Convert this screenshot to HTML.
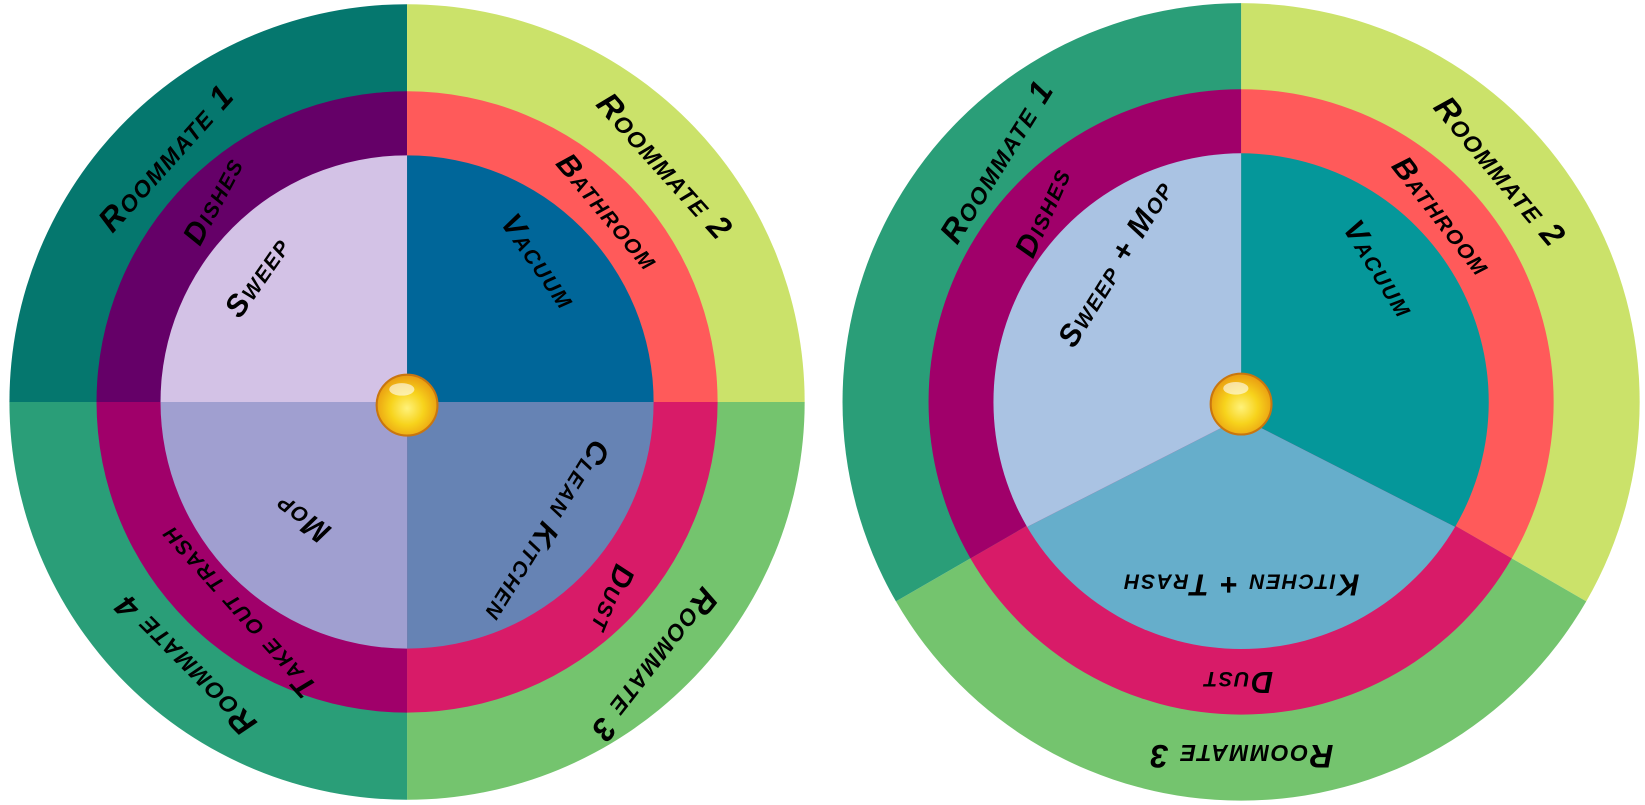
<!DOCTYPE html>
<html><head><meta charset="utf-8"><style>
html,body{margin:0;padding:0;background:#fff;}
svg{display:block;}
text{font-family:"Liberation Sans",sans-serif;font-weight:bold;font-style:italic;font-variant:small-caps;fill:#000;text-anchor:middle;dominant-baseline:middle;letter-spacing:1.5px;}
</style></head><body>
<svg width="1645" height="805" viewBox="0 0 1568 767" preserveAspectRatio="none" xmlns="http://www.w3.org/2000/svg">
<defs>
<radialGradient id="gold" cx="50%" cy="55%" r="55%">
<stop offset="0" stop-color="#fff27a"/><stop offset="0.5" stop-color="#f7d31c"/><stop offset="1" stop-color="#e99a10"/>
</radialGradient>
</defs>
<g>
<path d="M388 383 L9 383 A379 379 0 0 1 388 4 Z" fill="#05776E"/>
<path d="M388 383 L388 4 A379 379 0 0 1 767 383 Z" fill="#CBE26A"/>
<path d="M388 383 L767 383 A379 379 0 0 1 388 762 Z" fill="#74C46E"/>
<path d="M388 383 L388 762 A379 379 0 0 1 9 383 Z" fill="#2A9E78"/>
<path d="M388 383 L92 383 A296 296 0 0 1 388 87 Z" fill="#650068"/>
<path d="M388 383 L388 87 A296 296 0 0 1 684 383 Z" fill="#FF5A5A"/>
<path d="M388 383 L684 383 A296 296 0 0 1 388 679 Z" fill="#D81B68"/>
<path d="M388 383 L388 679 A296 296 0 0 1 92 383 Z" fill="#A0006A"/>
<path d="M388 383 L153 383 A235 235 0 0 1 388 148 Z" fill="#D3C2E6"/>
<path d="M388 383 L388 148 A235 235 0 0 1 623 383 Z" fill="#006699"/>
<path d="M388 383 L623 383 A235 235 0 0 1 388 618 Z" fill="#6683B4"/>
<path d="M388 383 L388 618 A235 235 0 0 1 153 383 Z" fill="#A09FD0"/>
<circle cx="388" cy="386" r="29" fill="url(#gold)" stroke="#c9760f" stroke-width="2"/>
<ellipse cx="383" cy="371" rx="12" ry="6" fill="#fff" opacity="0.6"/>
<text font-size="31" transform="translate(160,152) rotate(-48)">Roommate 1</text>
<text font-size="29" transform="translate(205,192) rotate(-62)">Dishes</text>
<text font-size="29" transform="translate(247,265) rotate(-55)">Sweep</text>
<text font-size="31" transform="translate(632,160) rotate(48)">Roommate 2</text>
<text font-size="29" transform="translate(578,203) rotate(50)">Bathroom</text>
<text font-size="29" transform="translate(512,250) rotate(55)">Vacuum</text>
<text font-size="29" transform="translate(520,505) rotate(122)">Clean Kitchen</text>
<text font-size="29" transform="translate(582,570) rotate(112)">Dust</text>
<text font-size="31" transform="translate(622,632) rotate(128)">Roommate 3</text>
<text font-size="29" transform="translate(289,493) rotate(215)">Mop</text>
<text font-size="29" transform="translate(228,582) rotate(228)">Take out trash</text>
<text font-size="31" transform="translate(178,632) rotate(225)">Roommate 4</text>
</g>
<g>
<path d="M1183 383 L1183 3 A380 380 0 0 1 1512 573 Z" fill="#CBE26A"/>
<path d="M1183 383 L1512 573 A380 380 0 0 1 854 573 Z" fill="#74C46E"/>
<path d="M1183 383 L854 573 A380 380 0 0 1 1183 3 Z" fill="#2A9E78"/>
<path d="M1183 383 L1183 85 A298 298 0 0 1 1441 532 Z" fill="#FF5A5A"/>
<path d="M1183 383 L1441 532 A298 298 0 0 1 925 532 Z" fill="#D81B68"/>
<path d="M1183 383 L925 532 A298 298 0 0 1 1183 85 Z" fill="#A0006A"/>
<path d="M1183 398 L1183 146 A237 237 0 0 1 1387 502 Z" fill="#05979A"/>
<path d="M1183 398 L1387 502 A237 237 0 0 1 979 502 Z" fill="#66AECB"/>
<path d="M1183 398 L979 502 A237 237 0 0 1 1183 146 Z" fill="#AAC3E3"/>
<circle cx="1183" cy="385" r="29" fill="url(#gold)" stroke="#c9760f" stroke-width="2"/>
<ellipse cx="1178" cy="370" rx="12" ry="6" fill="#fff" opacity="0.6"/>
<text font-size="31" transform="translate(952,155) rotate(-58)">Roommate 1</text>
<text font-size="29" transform="translate(996,203) rotate(-66)">Dishes</text>
<text font-size="29" transform="translate(1065,252) rotate(-58)">Sweep + Mop</text>
<text font-size="31" transform="translate(1428,165) rotate(50)">Roommate 2</text>
<text font-size="29" transform="translate(1373,207) rotate(52)">Bathroom</text>
<text font-size="29" transform="translate(1313,257) rotate(58)">Vacuum</text>
<text font-size="29" transform="translate(1183,555) rotate(180)">Kitchen + Trash</text>
<text font-size="29" transform="translate(1180,648) rotate(180)">Dust</text>
<text font-size="31" transform="translate(1183,718) rotate(180)">Roommate 3</text>
</g>
</svg>
</body></html>
